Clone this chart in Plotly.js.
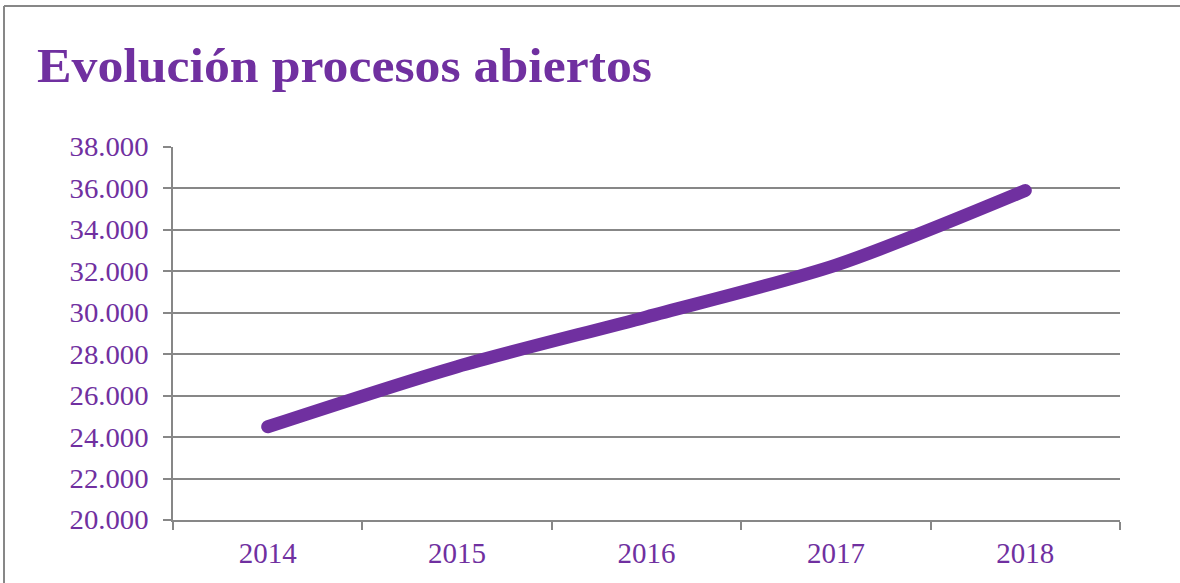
<!DOCTYPE html>
<html>
<head>
<meta charset="utf-8">
<script src="https://cdn.plot.ly/plotly-3.0.1.min.js"></script>
<style>
html,body{margin:0;padding:0;background:#fff;}
#chart{width:1180px;height:583px;}
#chart .js-line{stroke-linecap:round;stroke-linejoin:round;}
</style>
</head>
<body>
<div id="chart"></div>
<script>
const categories = ['2014', '2015', '2016', '2017', '2018'];
const procesosAbiertos = [24500, 27400, 29800, 32300, 35900];
const yTicks = [20000, 22000, 24000, 26000, 28000, 30000, 32000, 34000, 36000, 38000];
const titleText = 'Evolución procesos abiertos';

const purple = '#7030A0';
const gray = '#878787';

const trace = {
  x: categories,
  y: procesosAbiertos,
  type: 'scatter',
  mode: 'lines',
  line: {color: purple, width: 13, shape: 'spline', smoothing: 0.8},
  hoverinfo: 'x+y'
};

const layout = {
  width: 1180,
  height: 583,
  margin: {l: 173, r: 60, t: 147, b: 63, pad: 0},
  paper_bgcolor: '#ffffff',
  plot_bgcolor: '#ffffff',
  separators: ',.',
  showlegend: false,
  title: {
    text: '<b>' + titleText + '</b>',
    font: {family: 'Liberation Serif, serif', size: 48, color: purple},
    xref: 'container', yref: 'container',
    x: 37 / 1180, xanchor: 'left',
    y: 1 - 65 / 583, yanchor: 'middle'
  },
  xaxis: {
    type: 'category',
    range: [-0.5, 4.5],
    tickson: 'boundaries',
    ticks: 'outside',
    ticklen: 8,
    tickwidth: 2,
    tickcolor: gray,
    showline: true,
    linecolor: gray,
    linewidth: 2,
    showgrid: false,
    zeroline: false,
    tickfont: {family: 'Liberation Serif, serif', size: 29, color: purple},
    ticklabelstandoff: 6
  },
  yaxis: {
    range: [20000, 38000],
    tickvals: yTicks,
    tickformat: ',d',
    ticks: 'outside',
    ticklen: 8,
    tickwidth: 2,
    tickcolor: gray,
    showline: true,
    linecolor: gray,
    linewidth: 2,
    showgrid: true,
    gridcolor: gray,
    gridwidth: 2,
    zeroline: false,
    tickfont: {family: 'Liberation Serif, serif', size: 27, color: purple},
    ticklabelstandoff: 9
  },
  shapes: [
    {type: 'line', xref: 'paper', yref: 'paper', x0: (4 - 173) / 947, x1: (1180 - 173) / 947,
     y0: (520 - 6) / 373, y1: (520 - 6) / 373, line: {color: gray, width: 2}},
    {type: 'line', xref: 'paper', yref: 'paper', x0: (4 - 173) / 947, x1: (4 - 173) / 947,
     y0: (520 - 6) / 373, y1: (520 - 600) / 373, line: {color: gray, width: 2}}
  ]
};

function condense() {
  const gd = document.getElementById('chart');
  gd.querySelectorAll('.ytick text').forEach(t => {
    t.setAttribute('textLength', '79');
    t.setAttribute('lengthAdjust', 'spacingAndGlyphs');
  });
  const tt = gd.querySelector('.gtitle');
  if (tt) {
    tt.setAttribute('textLength', '615');
    tt.setAttribute('lengthAdjust', 'spacingAndGlyphs');
  }
}

Plotly.newPlot('chart', [trace], layout, {displayModeBar: false}).then(gd => {
  condense();
  gd.on('plotly_afterplot', condense);
});
</script>
</body>
</html>
